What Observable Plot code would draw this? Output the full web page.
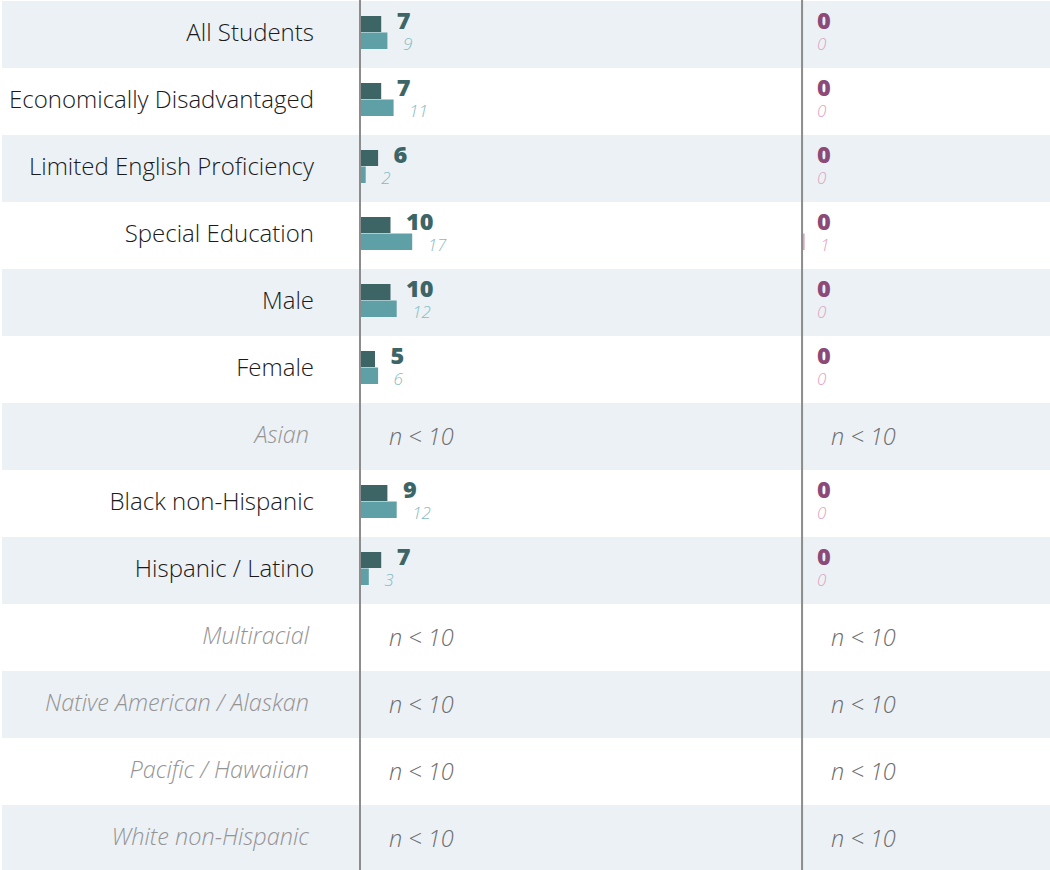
<!DOCTYPE html>
<html>
<head>
<meta charset="utf-8">
<script src="https://cdn.jsdelivr.net/npm/d3@7"></script>
<script src="https://cdn.jsdelivr.net/npm/@observablehq/plot@0.6"></script>
<style>
  html, body { margin: 0; padding: 0; background: #fff; }
  #chart svg { display: block; font-family: "Open Sans", sans-serif; }
</style>
</head>
<body>
<div id="chart"></div>
<script>
// ---- data ----
const groups = [
  "All Students", "Economically Disadvantaged", "Limited English Proficiency",
  "Special Education", "Male", "Female", "Asian", "Black non-Hispanic",
  "Hispanic / Latino", "Multiracial", "Native American / Alaskan",
  "Pacific / Hawaiian", "White non-Hispanic"
];
// left panel: school value (dark) and comparison value (light); null = n < 10
const leftSchool  = [7, 7, 6, 10, 10, 5, null, 9, 7, null, null, null, null];
const leftCompare = [9, 11, 2, 17, 12, 6, null, 12, 3, null, null, null, null];
// right panel
const rightSchool  = [0, 0, 0, 0, 0, 0, null, 0, 0, null, null, null, null];
const rightCompare = [0, 0, 0, 1, 0, 0, null, 0, 0, null, null, null, null];
const suppressedLabel = "n < 10";

// ---- layout constants (value units) ----
const PANEL = 142.6; // distance between panel origins, in value units

const panels = [
  {key: "left",  offset: 0,     school: leftSchool,  compare: leftCompare,
   dark: "#3d6566", light: "#5fa0a7", darkText: "#3d6566", lightText: "#84bcc2"},
  {key: "right", offset: PANEL, school: rightSchool, compare: rightCompare,
   dark: "#8b4a78", light: "#e2a6c4", darkText: "#8b4a78", lightText: "#e0a2c1"}
];

const rows = [];
const suppressed = [];
panels.forEach(p => {
  groups.forEach((g, i) => {
    if (p.school[i] == null) {
      suppressed.push({group: g, offset: p.offset});
    } else {
      rows.push({group: g, offset: p.offset, school: p.school[i], compare: p.compare[i],
                 dark: p.dark, light: p.light, darkText: p.darkText, lightText: p.lightText});
    }
  });
});
const labelRows = groups.map((g, i) => ({group: g, suppressed: leftSchool[i] == null}));
const stripeRows = groups.filter((g, i) => i % 2 === 0);

const chart = Plot.plot({
  width: 1050,
  height: 870,
  marginLeft: 2,
  marginRight: 0,
  marginTop: 0,
  marginBottom: 0,
  style: {fontFamily: "'Open Sans', sans-serif", background: "#fff"},
  x: {domain: [0, 100], range: [359.5, 669.5], axis: null},
  y: {domain: groups, range: [0, 873.6], padding: 0, axis: null},
  marks: [
    Plot.cell(stripeRows, {y: d => d, fill: "#ecf1f6"}),
    // bars
    Plot.barX(rows, {x1: "offset", x2: d => d.offset + d.school, y: "group",
      fill: d => d.dark, insetTop: 15, insetBottom: 36}),
    Plot.barX(rows, {x1: "offset", x2: d => d.offset + d.compare, y: "group",
      fill: d => d.light, insetTop: 31.5, insetBottom: 19}),
    // panel axis lines
    Plot.ruleX([0, PANEL], {stroke: "#8c8c8c", strokeWidth: 2}),
    // value labels
    Plot.text(rows, {x: d => d.offset + d.school, y: "group", text: d => String(d.school),
      dx: 15, dy: -14, textAnchor: "start", fontSize: 23.5, fontWeight: 800,
      fill: d => d.darkText}),
    Plot.text(rows, {x: d => d.offset + d.compare, y: "group", text: d => String(d.compare),
      dx: 15, dy: 9.5, textAnchor: "start", fontSize: 17, fontWeight: 300,
      fontStyle: "italic", fill: d => d.lightText}),
    // suppressed
    Plot.text(suppressed, {x: "offset", y: "group", text: () => suppressedLabel,
      dx: 29, dy: 0, textAnchor: "start", fontSize: 23.5, fontWeight: 300,
      fontStyle: "italic", fill: "#6e6e6e"}),
    // row labels
    Plot.text(labelRows.filter(d => !d.suppressed), {x: () => 0, y: "group", text: "group",
      dx: -46, dy: -1.5, textAnchor: "end", fontSize: 24, fontWeight: 300, fill: "#1a1a1a"}),
    Plot.text(labelRows.filter(d => d.suppressed), {x: () => 0, y: "group", text: "group",
      dx: -51, dy: -1.5, textAnchor: "end", fontSize: 23.5, fontWeight: 300,
      fontStyle: "italic", fill: "#949494"})
  ]
});
document.getElementById("chart").appendChild(chart);
</script>
</body>
</html>
